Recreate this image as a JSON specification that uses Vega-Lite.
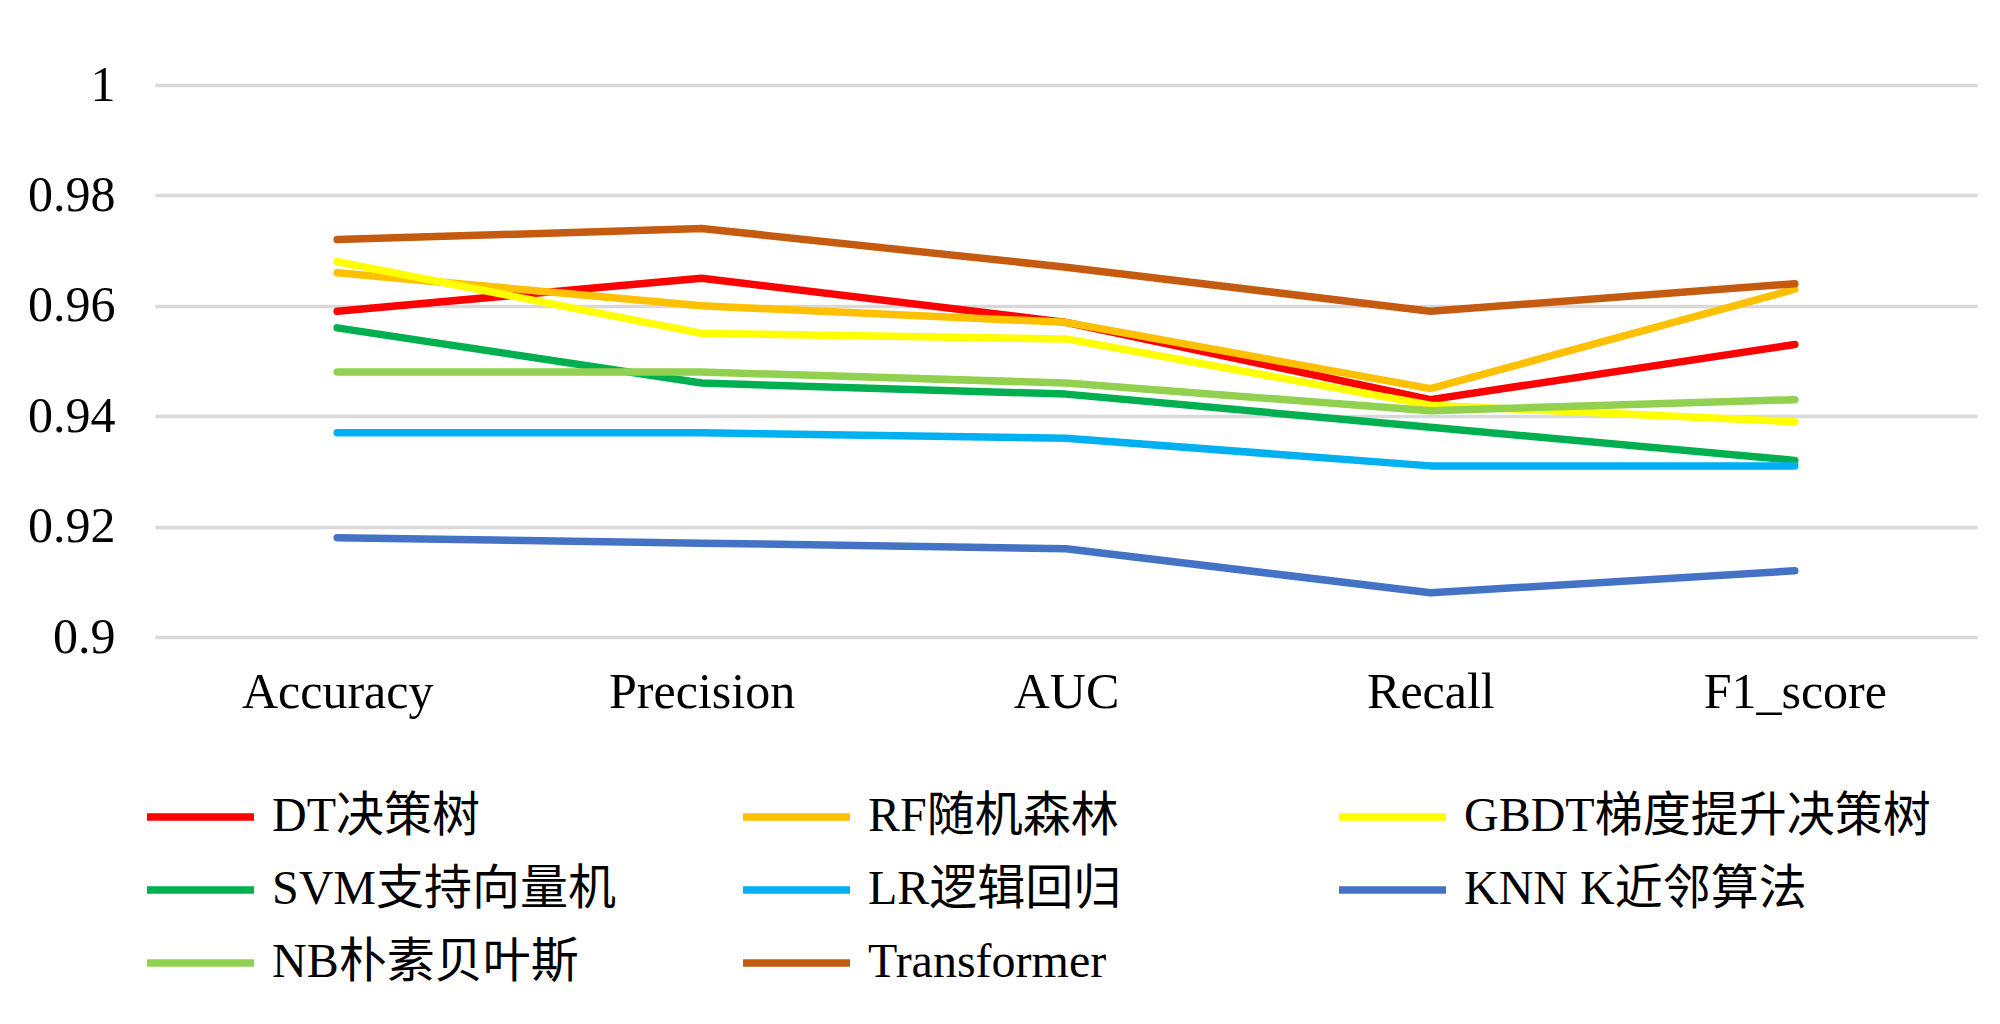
{
  "$schema": "https://vega.github.io/schema/vega-lite/v6.json",
  "width": 1822,
  "height": 552,
  "autosize": {"type": "none"},
  "padding": {"left": 155, "top": 85, "right": 23, "bottom": 387},
  "background": "white",
  "config": {
    "view": {"stroke": null},
    "font": "Liberation Serif, Noto Sans CJK SC"
  },
  "data": {
    "values": [
      {"model": "DT决策树", "metric": "Accuracy", "value": 0.959},
      {"model": "DT决策树", "metric": "Precision", "value": 0.965},
      {"model": "DT决策树", "metric": "AUC", "value": 0.957},
      {"model": "DT决策树", "metric": "Recall", "value": 0.943},
      {"model": "DT决策树", "metric": "F1_score", "value": 0.953},
      {"model": "RF随机森林", "metric": "Accuracy", "value": 0.966},
      {"model": "RF随机森林", "metric": "Precision", "value": 0.960},
      {"model": "RF随机森林", "metric": "AUC", "value": 0.957},
      {"model": "RF随机森林", "metric": "Recall", "value": 0.945},
      {"model": "RF随机森林", "metric": "F1_score", "value": 0.963},
      {"model": "GBDT梯度提升决策树", "metric": "Accuracy", "value": 0.968},
      {"model": "GBDT梯度提升决策树", "metric": "Precision", "value": 0.955},
      {"model": "GBDT梯度提升决策树", "metric": "AUC", "value": 0.954},
      {"model": "GBDT梯度提升决策树", "metric": "Recall", "value": 0.942},
      {"model": "GBDT梯度提升决策树", "metric": "F1_score", "value": 0.939},
      {"model": "SVM支持向量机", "metric": "Accuracy", "value": 0.956},
      {"model": "SVM支持向量机", "metric": "Precision", "value": 0.946},
      {"model": "SVM支持向量机", "metric": "AUC", "value": 0.944},
      {"model": "SVM支持向量机", "metric": "Recall", "value": 0.938},
      {"model": "SVM支持向量机", "metric": "F1_score", "value": 0.932},
      {"model": "LR逻辑回归", "metric": "Accuracy", "value": 0.937},
      {"model": "LR逻辑回归", "metric": "Precision", "value": 0.937},
      {"model": "LR逻辑回归", "metric": "AUC", "value": 0.936},
      {"model": "LR逻辑回归", "metric": "Recall", "value": 0.931},
      {"model": "LR逻辑回归", "metric": "F1_score", "value": 0.931},
      {"model": "KNN K近邻算法", "metric": "Accuracy", "value": 0.918},
      {"model": "KNN K近邻算法", "metric": "Precision", "value": 0.917},
      {"model": "KNN K近邻算法", "metric": "AUC", "value": 0.916},
      {"model": "KNN K近邻算法", "metric": "Recall", "value": 0.908},
      {"model": "KNN K近邻算法", "metric": "F1_score", "value": 0.912},
      {"model": "NB朴素贝叶斯", "metric": "Accuracy", "value": 0.948},
      {"model": "NB朴素贝叶斯", "metric": "Precision", "value": 0.948},
      {"model": "NB朴素贝叶斯", "metric": "AUC", "value": 0.946},
      {"model": "NB朴素贝叶斯", "metric": "Recall", "value": 0.941},
      {"model": "NB朴素贝叶斯", "metric": "F1_score", "value": 0.943},
      {"model": "Transformer", "metric": "Accuracy", "value": 0.972},
      {"model": "Transformer", "metric": "Precision", "value": 0.974},
      {"model": "Transformer", "metric": "AUC", "value": 0.967},
      {"model": "Transformer", "metric": "Recall", "value": 0.959},
      {"model": "Transformer", "metric": "F1_score", "value": 0.964}
    ]
  },
  "mark": {"type": "line", "strokeWidth": 7.5, "strokeCap": "round", "strokeJoin": "round"},
  "encoding": {
    "x": {
      "field": "metric",
      "type": "nominal",
      "sort": ["Accuracy", "Precision", "AUC", "Recall", "F1_score"],
      "scale": {"type": "point", "padding": 0.5},
      "axis": {
        "title": null,
        "labelAngle": 0,
        "labelFontSize": 50,
        "labelColor": "#000000",
        "labelPadding": 30,
        "labelLimit": 1000,
        "ticks": false,
        "domain": false,
        "grid": false
      }
    },
    "y": {
      "field": "value",
      "type": "quantitative",
      "scale": {"domain": [0.9, 1], "zero": false, "nice": false},
      "axis": {
        "title": null,
        "values": [0.9, 0.92, 0.94, 0.96, 0.98, 1],
        "format": "~g",
        "labelFontSize": 50,
        "labelColor": "#000000",
        "labelPadding": 40,
        "ticks": false,
        "domain": false,
        "grid": true,
        "gridColor": "#d9d9d9",
        "gridWidth": 3.5
      }
    },
    "color": {
      "field": "model",
      "type": "nominal",
      "scale": {
        "domain": ["DT决策树", "RF随机森林", "GBDT梯度提升决策树", "SVM支持向量机", "LR逻辑回归", "KNN K近邻算法", "NB朴素贝叶斯", "Transformer"],
        "range": ["#FF0000", "#FFC000", "#FFFF00", "#00B050", "#00B0F0", "#4472C4", "#92D050", "#C55A11"]
      },
      "legend": {
        "title": null,
        "orient": "none",
        "legendX": -12,
        "legendY": 704,
        "direction": "horizontal",
        "columns": 3,
        "gridAlign": "all",
        "columnPadding": 0,
        "rowPadding": 17,
        "clipHeight": 56,
        "symbolType": "stroke",
        "symbolSize": 11449,
        "symbolStrokeWidth": 7.5,
        "labelFontSize": 48,
        "labelColor": "#000000",
        "labelOffset": 14,
        "labelLimit": 800
      }
    }
  }
}
